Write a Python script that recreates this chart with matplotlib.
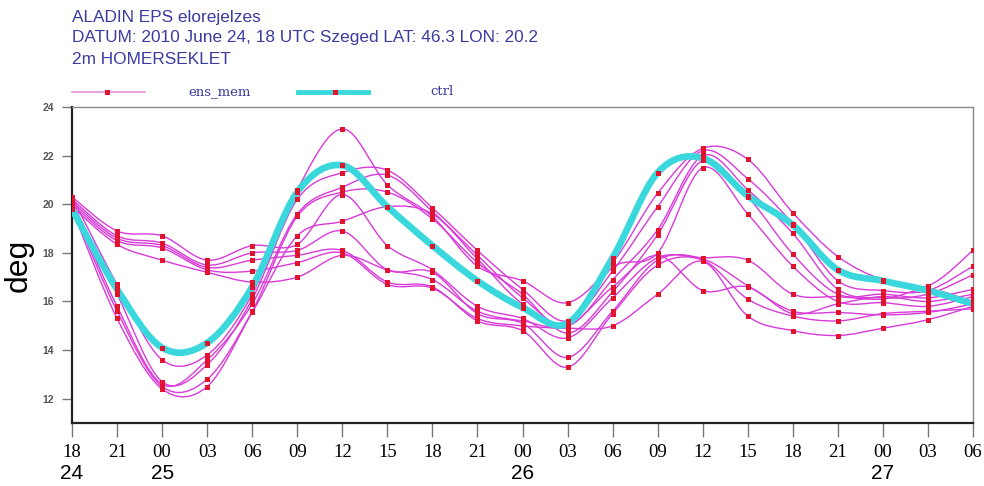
import numpy as np
import matplotlib
matplotlib.use('Agg')
import matplotlib.pyplot as plt
from matplotlib.path import Path
from matplotlib.patches import PathPatch
from matplotlib.lines import Line2D

# ── data ───────────────────────────────────────────────────────────────────────
hour_labels = ['18', '21', '00', '03', '06', '09', '12', '15', '18', '21', '00',
               '03', '06', '09', '12', '15', '18', '21', '00', '03', '06']
day_labels = {0: '24', 2: '25', 10: '26', 18: '27'}

ctrl = [19.8, 16.5, 14.1, 14.3, 16.6, 20.5, 21.6, 19.9, 18.3, 16.85, 15.75,
        15.1, 17.8, 21.3, 21.9, 20.35, 19.15, 17.3, 16.85, 16.45, 15.9]

mem01 = [20.3, 16.7, 13.6, 13.8, 16.3, 20.6, 23.1, 20.8, 19.5, 17.45, 16.85,
         15.95, 17.6, 20.45, 22.3, 21.85, 19.65, 17.85, 16.9, 16.65, 18.1]
mem02 = [20.1, 16.3, 12.7, 13.4, 16.1, 20.2, 21.3, 21.4, 19.85, 18.1, 16.5,
         15.2, 17.25, 19.9, 22.2, 21.05, 19.2, 16.85, 16.45, 16.45, 17.45]
mem03 = [20.0, 15.8, 12.6, 13.6, 15.9, 19.6, 20.7, 21.2, 19.7, 17.9, 16.15,
         15.0, 16.9, 18.95, 22.0, 20.6, 18.8, 16.5, 16.15, 16.3, 17.1]
mem04 = [19.9, 15.6, 12.5, 12.8, 15.6, 19.5, 20.5, 20.5, 19.4, 17.6, 16.3,
         14.7, 16.4, 18.75, 21.8, 20.3, 17.95, 16.3, 16.3, 16.15, 16.5]
mem05 = [19.8, 15.3, 12.4, 12.5, 15.55, 18.7, 19.3, 19.9, 19.6, 17.75, 15.9,
         15.1, 17.4, 18.0, 21.5, 19.6, 17.45, 16.0, 15.95, 15.8, 16.2]
mem06 = [20.3, 18.9, 18.7, 17.7, 18.3, 18.35, 20.4, 18.3, 17.3, 15.8, 15.3,
         14.5, 16.15, 17.8, 17.8, 17.7, 16.3, 16.2, 16.1, 16.5, 16.0]
mem07 = [20.2, 18.7, 18.4, 17.5, 18.0, 18.1, 18.9, 17.3, 17.2, 15.5, 15.1,
         13.7, 15.6, 17.7, 17.75, 16.65, 15.6, 15.55, 15.45, 15.55, 15.9]
mem08 = [20.1, 18.6, 18.3, 17.4, 17.7, 17.9, 18.1, 16.8, 16.6, 15.2, 14.8,
         13.3, 15.5, 17.5, 17.7, 16.1, 15.4, 15.2, 15.5, 15.6, 15.7]
mem09 = [20.0, 18.5, 18.2, 17.3, 17.25, 17.6, 18.0, 16.7, 16.55, 15.3, 15.0,
         14.9, 15.0, 16.3, 17.65, 15.4, 14.8, 14.6, 14.9, 15.25, 15.8]
mem10 = [19.9, 18.35, 17.7, 17.2, 16.8, 17.0, 17.9, 17.3, 16.9, 15.6, 15.2,
         15.0, 16.6, 17.9, 16.45, 16.6, 15.5, 15.9, 16.2, 16.0, 16.3]

members = [mem01, mem02, mem03, mem04, mem05, mem06, mem07, mem08, mem09, mem10]

MEM_COLOR = '#d93ad9'
CTRL_COLOR = '#3ad8dc'
MARK_COLOR = '#e0142c'
TEXT_BLUE = '#3b3ba0'


def smooth_path(y):
    # Catmull-Rom curve through the points, as cubic Bezier segments
    x = np.arange(len(y), dtype=float)
    y = np.asarray(y, dtype=float)
    px = np.concatenate([[x[0]], x, [x[-1]]])
    py = np.concatenate([[y[0]], y, [y[-1]]])
    verts = [(x[0], y[0])]
    codes = [Path.MOVETO]
    for i in range(1, len(x)):
        c1 = (px[i] + (px[i + 1] - px[i - 1]) / 6, py[i] + (py[i + 1] - py[i - 1]) / 6)
        c2 = (px[i + 1] - (px[i + 2] - px[i]) / 6, py[i + 1] - (py[i + 2] - py[i]) / 6)
        verts += [c1, c2, (px[i + 1], py[i + 1])]
        codes += [Path.CURVE4] * 3
    return Path(verts, codes)


fig = plt.figure(figsize=(9.84, 4.86), dpi=100)
ax = fig.add_axes([0.0732, 0.1296, 0.9156, 0.6502])

steps = np.arange(len(hour_labels))

for m in members:
    ax.add_patch(PathPatch(smooth_path(m), fill=False, edgecolor=MEM_COLOR,
                           linewidth=1.0, zorder=2))
ax.add_patch(PathPatch(smooth_path(ctrl), fill=False, edgecolor=CTRL_COLOR,
                       linewidth=4.8, capstyle='round', zorder=3))
for m in members + [ctrl]:
    ax.plot(steps, m, linestyle='none', marker='s', markersize=3.6,
            color=MARK_COLOR, markeredgewidth=0, zorder=4)

ax.set_xlim(0, len(hour_labels) - 1)
ax.set_ylim(11, 24)
ax.set_xticks(steps)
ax.set_xticklabels(hour_labels, fontfamily='Liberation Serif', fontsize=13.5)
ax.set_yticks(np.arange(12, 25, 2))
ax.set_yticklabels([str(v) for v in range(12, 25, 2)], fontfamily='Liberation Sans',
                   fontsize=7.5, fontweight='bold', color='#555555')
ax.tick_params(axis='x', direction='out', length=10, width=1, color='#777777', pad=5)
ax.tick_params(axis='y', direction='out', length=7, width=1, color='#777777', pad=6)

for side in ['left', 'bottom']:
    ax.spines[side].set_linewidth(1.6)
    ax.spines[side].set_color('#222222')
for side in ['top', 'right']:
    ax.spines[side].set_linewidth(1.0)
    ax.spines[side].set_color('#888888')

ax.set_ylabel('deg', fontfamily='Liberation Sans', fontsize=23, labelpad=6)

for pos, lab in day_labels.items():
    ax.annotate(lab, xy=(pos, 0), xycoords=('data', 'axes fraction'),
                xytext=(0, -50), textcoords='offset pixels', ha='center', va='center',
                fontfamily='Liberation Sans', fontsize=15)

# title block
title_lines = ['ALADIN EPS elorejelzes',
               'DATUM: 2010 June 24, 18 UTC Szeged LAT: 46.3 LON: 20.2',
               '2m HOMERSEKLET']
for yy, txt in zip([0.965, 0.922, 0.877], title_lines):
    fig.text(0.073, yy, txt, color=TEXT_BLUE, fontfamily='Liberation Sans',
             fontsize=12.4, va='center', ha='left')

# hand-made legend above the frame
ly = 0.811
fig.add_artist(Line2D([0.073, 0.147], [ly, ly], transform=fig.transFigure,
                      color='#e890e0', linewidth=1.2))
fig.add_artist(Line2D([0.109], [ly], transform=fig.transFigure, marker='s',
                      markersize=3.6, color=MARK_COLOR, markeredgewidth=0))
fig.text(0.191, ly, 'ens_mem', color=TEXT_BLUE, fontfamily='DejaVu Serif',
         fontsize=9.5, va='center', ha='left')
fig.add_artist(Line2D([0.303, 0.374], [ly, ly], transform=fig.transFigure,
                      color=CTRL_COLOR, linewidth=3.5))
fig.add_artist(Line2D([0.340], [ly], transform=fig.transFigure, marker='s',
                      markersize=3.6, color=MARK_COLOR, markeredgewidth=0))
fig.text(0.437, ly, 'ctrl', color=TEXT_BLUE, fontfamily='DejaVu Serif',
         fontsize=9.5, va='center', ha='left')

plt.savefig('out.png', dpi=100)
